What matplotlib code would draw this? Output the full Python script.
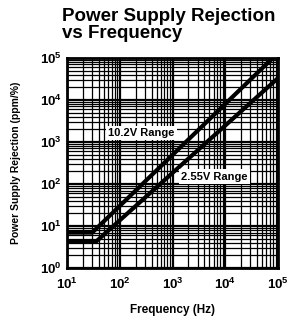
import math
import matplotlib
matplotlib.use("Agg")
import matplotlib.pyplot as plt
from matplotlib.ticker import LogLocator, FuncFormatter, NullFormatter

plt.rcParams['font.family'] = ['Liberation Sans', 'DejaVu Sans']
plt.rcParams['mathtext.fontset'] = 'custom'
plt.rcParams['mathtext.rm'] = 'Liberation Sans:bold'
plt.rcParams['mathtext.it'] = 'Liberation Sans:bold'
plt.rcParams['mathtext.bf'] = 'Liberation Sans:bold'

# Data
freq_102 = [10, 30, 80000]
psr_102 = [7, 7, 100000]
freq_255 = [10, 35, 100000]
psr_255 = [4.2, 4.2, 33000]

x_ticks = [10, 100, 1000, 10000, 100000]
y_ticks = [1, 10, 100, 1000, 10000, 100000]

fig = plt.figure(figsize=(2.89, 3.25), dpi=100)
ax = fig.add_axes([0.232, 0.175, 0.730, 0.647])
ax.set_xscale('log')
ax.set_yscale('log')
ax.set_xlim(10, 1e5)
ax.set_ylim(1, 1e5)

ax.xaxis.set_minor_locator(LogLocator(base=10, subs=range(2, 10), numticks=100))
ax.yaxis.set_minor_locator(LogLocator(base=10, subs=range(2, 10), numticks=100))
ax.set_xticks(x_ticks)
ax.set_yticks(y_ticks)
fmt = FuncFormatter(lambda v, p: r'$10^{%d}$' % round(math.log10(v)))
ax.xaxis.set_major_formatter(fmt)
ax.yaxis.set_major_formatter(fmt)
ax.xaxis.set_minor_formatter(NullFormatter())
ax.yaxis.set_minor_formatter(NullFormatter())

ax.grid(which='major', color='black', lw=1.6)
ax.grid(which='minor', color='black', lw=0.9)
ax.tick_params(which='both', length=0, labelsize=9.5)
ax.tick_params(axis='x', pad=6)
ax.tick_params(axis='y', pad=4)

for s in ax.spines.values():
    s.set_linewidth(2)

ax.plot(freq_102, psr_102, color='black', lw=3, solid_capstyle='butt', zorder=3)
ax.plot(freq_255, psr_255, color='black', lw=3, solid_capstyle='butt', zorder=3)

ax.text(260, 1600, '10.2V Range', fontsize=8, fontweight='bold', ha='center', va='center',
        bbox=dict(facecolor='white', edgecolor='none', pad=1.5), zorder=4)
ax.text(6300, 150, '2.55V Range', fontsize=8, fontweight='bold', ha='center', va='center',
        bbox=dict(facecolor='white', edgecolor='none', pad=1.5), zorder=4)

ax.set_xlabel('Frequency (Hz)', fontsize=8.5, fontweight='bold', labelpad=9)
ax.set_ylabel('Power Supply Rejection (ppm/%)', fontsize=7.5, fontweight='bold', labelpad=13)

fig.text(0.213, 0.975, 'Power Supply Rejection\nvs Frequency', fontsize=13.5, fontweight='bold',
         ha='left', va='top', linespacing=1.0)

fig.savefig('out.png', dpi=100)
